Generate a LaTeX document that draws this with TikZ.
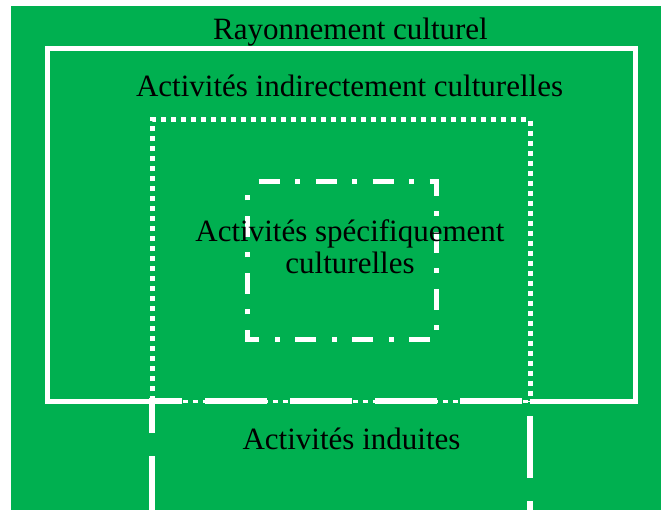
\documentclass[tikz,border=0pt]{standalone}
\usepackage{fontspec}
\setmainfont{Liberation Serif}
\definecolor{bggreen}{RGB}{0,176,80}
\begin{document}
\begin{tikzpicture}[x=1pt,y=-1pt,
  lbl/.style={font=\fontsize{31}{32.5}\selectfont, inner sep=0pt, text=black},
  solidframe/.style={draw=white, line width=5pt},
  dotframe/.style={draw=white, line width=5pt, dash pattern=on 5pt off 5pt},
  dotbottom/.style={draw=white, line width=3pt, dash pattern=on 5pt off 5pt, dash phase=9.2pt},
  dashdotframe/.style={draw=white, line width=5pt, dash pattern=on 21pt off 15.5pt on 5pt off 15.5pt, dash phase=46pt},
  longdashframe/.style={draw=white, line width=6.5pt, dash pattern=on 62pt off 23pt}]
\useasboundingbox (0,0) rectangle (661,510);
\clip (0,0) rectangle (661,510);
\fill[bggreen] (11,6) rectangle (661,510);
% outer solid frame (bottom interrupted by the induced box)
\draw[solidframe] (152,401) -- (47.5,401) -- (47.5,48.5) -- (635.5,48.5) -- (635.5,401) -- (530,401);
% dotted frame
\draw[dotframe] (152.5,401) -- (152.5,119.7) -- (530.2,119.7) -- (530.2,401);
\draw[dotbottom] (152.5,401) -- (530.2,401);
% dash-dot frame
\draw[dashdotframe] (247.5,182) -- (436.5,182) -- (436.5,339.5) -- (247.5,339.5) -- cycle;
% long dash frame
\draw[longdashframe] (152,518) -- (152,401) -- (530,401) -- (530,520);
% labels
\node[lbl, anchor=base] (rc) at (350.5,39.3) {Rayonnement culturel};
\node[lbl, anchor=base] (ind) at (349.5,96.7) {Activités indirectement culturelles};
\node[lbl, anchor=base, align=center] (spec) at (350,274) {Activités spécifiquement\\culturelles};
\node[lbl, anchor=base] (indu) at (351.5,449.3) {Activités induites};
\end{tikzpicture}
\end{document}
